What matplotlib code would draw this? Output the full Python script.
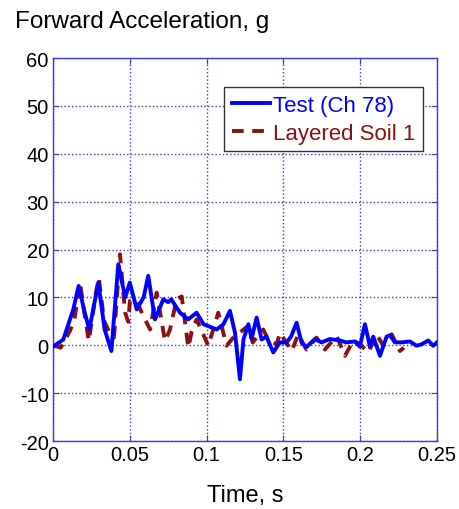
import matplotlib
matplotlib.use("Agg")
import matplotlib.pyplot as plt

plt.rcParams['font.family'] = ['Liberation Sans', 'DejaVu Sans']
plt.rcParams['axes.unicode_minus'] = False

# Test channel 78
t_test = [0.0, 0.0067, 0.0132, 0.0167, 0.0205, 0.0236, 0.0265, 0.0295, 0.0336, 0.038,
          0.0425, 0.047, 0.050, 0.0545, 0.059, 0.062, 0.0664, 0.0718, 0.075, 0.077,
          0.0827, 0.088, 0.0935, 0.098, 0.1066, 0.111, 0.1152, 0.1185, 0.1217, 0.124,
          0.1272, 0.1293, 0.1326, 0.1358, 0.139, 0.1434, 0.1477, 0.152, 0.155, 0.1586,
          0.1618, 0.165, 0.1705, 0.1748, 0.1802, 0.1868, 0.191, 0.1966, 0.1998, 0.2031,
          0.2064, 0.2085, 0.2129, 0.2172, 0.2194, 0.2226, 0.227, 0.2324, 0.2367, 0.240,
          0.2443, 0.2475, 0.250]
a_test = [-0.3, 1.2, 7.5, 12.4, 7.0, 3.3, 8.0, 13.1, 3.3, -1.2,
          16.9, 10.0, 13.1, 7.5, 10.0, 14.5, 5.4, 9.6, 9.0, 9.6,
          6.8, 5.4, 6.8, 4.4, 3.3, 4.4, 7.2, 2.6, -7.1, 1.2,
          4.4, 1.4, 5.8, 1.2, 1.8, -1.5, 0.6, 0.6, 1.8, 4.7,
          0.6, -0.4, 1.3, 0.6, 1.3, 1.0, 0.6, 0.8, -0.3, 4.4,
          -0.3, 1.8, -2.2, 1.8, 2.1, 0.6, 0.6, 0.8, -0.1, 0.2,
          1.0, -0.1, 0.6]

# Layered soil model 1
t_soil = [0.0, 0.005, 0.011, 0.014, 0.0176, 0.0197, 0.0233, 0.0276, 0.0298, 0.0332,
          0.0365, 0.0397, 0.0436, 0.0469, 0.049, 0.0501, 0.054, 0.0588, 0.0632, 0.0675,
          0.0729, 0.0762, 0.0805, 0.0838, 0.0881, 0.0903, 0.0935, 0.1011, 0.1076, 0.113,
          0.1174, 0.1269, 0.130, 0.1369, 0.140, 0.1456, 0.1478, 0.1554, 0.1597, 0.165,
          0.1716, 0.177, 0.1847, 0.1901, 0.1955, 0.200, 0.2053, 0.2107, 0.215, 0.2205,
          0.2259, 0.2285]
a_soil = [0.0, -0.5, 3.0, 5.5, 13.1, 8.2, 0.9, 10.3, 14.1, 5.2,
          2.8, 1.6, 19.0, 6.9, 4.9, 9.3, 9.5, 6.1, 3.3, 11.0,
          0.9, 3.3, 9.6, 10.2, -0.5, 2.9, 5.4, -0.1, 6.8, -0.1,
          1.6, 4.0, 0.6, 3.3, 1.2, 0.2, 2.6, -1.2, 2.3, -0.9,
          1.6, -0.9, 1.9, -2.2, 1.0, 0.2, -1.5, 2.3, -0.1, 2.3,
          -1.2, -0.5]

x_ticks = [0, 0.05, 0.1, 0.15, 0.2, 0.25]
x_labels = ['0', '0.05', '0.1', '0.15', '0.2', '0.25']
y_ticks = [-20, -10, 0, 10, 20, 30, 40, 50, 60]

blue = '#0000ff'
dark_red = '#8b1010'
frame = '#3a3ae6'

fig = plt.figure(figsize=(4.59, 5.10), dpi=100)
ax = fig.add_axes([0.1155, 0.1333, 0.8365, 0.751])

ax.plot(t_test, a_test, color=blue, lw=2.8, label='Test (Ch 78)', zorder=3)
ax.plot(t_soil, a_soil, color=dark_red, lw=2.8, dashes=(3, 2.2),
        label='Layered Soil 1', zorder=2)

ax.set_xlim(0, 0.25)
ax.set_ylim(-20, 60)
ax.set_xticks(x_ticks)
ax.set_xticklabels(x_labels)
ax.set_yticks(y_ticks)
ax.tick_params(direction='in', length=4, color=frame, labelsize=14.5,
               top=True, right=True, pad=3)
ax.grid(True, color=frame, linestyle=':', lw=1)
for s in ax.spines.values():
    s.set_color(frame)
    s.set_linewidth(1)

ax.set_xlabel('Time, s', fontsize=17, labelpad=14)
fig.text(0.033, 0.957, 'Forward Acceleration, g', fontsize=17.5, va='center', ha='left')

leg = ax.legend(loc='upper right', bbox_to_anchor=(0.964, 0.924), borderaxespad=0,
                fontsize=16, handlelength=1.7, handletextpad=0.15, borderpad=0.35,
                labelspacing=0.3, fancybox=False, framealpha=1,
                edgecolor='#333333')
leg.get_frame().set_linewidth(1)
for txt, c in zip(leg.get_texts(), [blue, dark_red]):
    txt.set_color(c)

fig.savefig('out.png', dpi=100)
